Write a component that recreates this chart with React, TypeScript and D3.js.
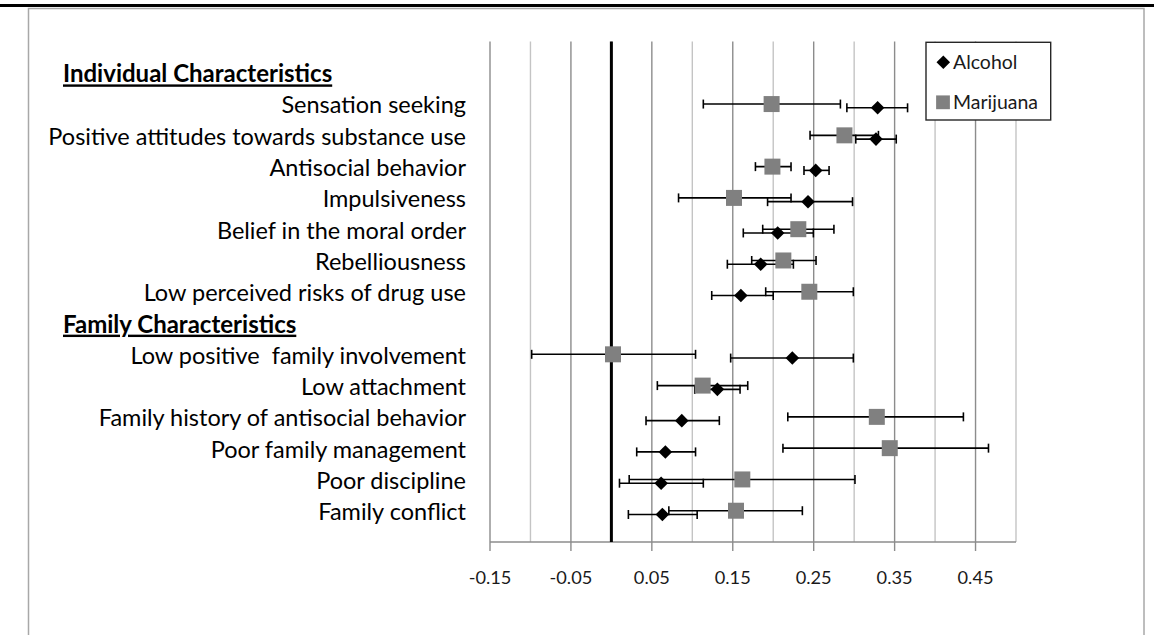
import React, { useMemo } from "react";
import * as d3 from "d3";

// ---------- data ----------
const groupHeaders = ["Individual Characteristics", "Family Characteristics"];
const headerIndex = [0, 8];

const rowLabels = [
  "Sensation seeking",
  "Positive attitudes towards substance use",
  "Antisocial behavior",
  "Impulsiveness",
  "Belief in the moral order",
  "Rebelliousness",
  "Low perceived risks of drug use",
  "Low positive  family involvement",
  "Low attachment",
  "Family history of antisocial behavior",
  "Poor family management",
  "Poor discipline",
  "Family conflict",
];
const rowIndex = [1, 2, 3, 4, 5, 6, 7, 9, 10, 11, 12, 13, 14];

const seriesNames = ["Alcohol", "Marijuana"];

const alcoholEst = [0.329, 0.327, 0.2525, 0.243, 0.2055, 0.1845, 0.16, 0.2236, 0.131, 0.087, 0.0667, 0.0615, 0.063];
const alcoholLo = [0.291, 0.302, 0.238, 0.193, 0.163, 0.1433, 0.124, 0.1474, 0.103, 0.0428, 0.0313, 0.01, 0.021];
const alcoholHi = [0.366, 0.352, 0.269, 0.298, 0.2496, 0.2249, 0.2, 0.299, 0.159, 0.1334, 0.104, 0.1136, 0.106];

const marijuanaEst = [0.198, 0.288, 0.199, 0.1515, 0.231, 0.2125, 0.2446, 0.002, 0.1128, 0.328, 0.344, 0.1618, 0.154];
const marijuanaLo = [0.1136, 0.2455, 0.178, 0.083, 0.187, 0.1734, 0.1907, -0.0985, 0.0568, 0.218, 0.212, 0.022, 0.071];
const marijuanaHi = [0.283, 0.33, 0.222, 0.222, 0.275, 0.2529, 0.299, 0.104, 0.1685, 0.435, 0.466, 0.301, 0.236];

const xMin = -0.15;
const xMax = 0.5;
const xTicks = [-0.15, -0.05, 0.05, 0.15, 0.25, 0.35, 0.45];
const xTickLabels = ["-0.15", "-0.05", "0.05", "0.15", "0.25", "0.35", "0.45"];

// ---------- layout ----------
const W = 1154;
const H = 635;
const FONT = "Lato, 'Open Sans', sans-serif";
const ALC_OFFSET = 0.12;

function measure(text: string, font: string): number {
  const c = document.createElement("canvas").getContext("2d");
  if (!c) return text.length * 50;
  c.font = font;
  return c.measureText(text).width;
}

export default function App() {
  const x = d3.scaleLinear().domain([xMin, xMax]).range([490, 1016]);
  const y = d3.scaleLinear().domain([-1, 15]).range([41.5, 542]);
  const plotTop = y(-1);
  const plotBottom = y(15);

  const sizes = useMemo(() => {
    const label = (100 * 369) / measure("Family history of antisocial behavior", "100px Lato");
    const header = (100 * 234) / measure("Family Characteristics", "bold 100px Lato");
    const legend = (100 * 85) / measure("Marijuana", "100px Lato");
    const tick = (100 * 36) / measure("0.05", "100px Lato");
    return { label, header, legend, tick };
  }, []);

  const grid = d3.range(14).map((i) => ({ v: xMin + i * 0.05, major: i % 2 === 0 }));

  const diamond = d3.symbol().type(d3.symbolSquare).size(92)();
  const square = d3.symbol().type(d3.symbolSquare).size(256)();
  const legendSquare = d3.symbol().type(d3.symbolSquare).size(190)();

  const alc = rowIndex.map((r, i) => ({ r: r + ALC_OFFSET, est: alcoholEst[i], lo: alcoholLo[i], hi: alcoholHi[i] }));
  const mar = rowIndex.map((r, i) => ({ r, est: marijuanaEst[i], lo: marijuanaLo[i], hi: marijuanaHi[i] }));

  const errBar = (d: { r: number; lo: number; hi: number }, key: string) => {
    const yy = y(d.r);
    return (
      <g key={key} stroke="#000" strokeWidth={1.6} fill="none">
        <line x1={x(d.lo)} x2={x(d.hi)} y1={yy} y2={yy} />
        <line x1={x(d.lo)} x2={x(d.lo)} y1={yy - 4.5} y2={yy + 4.5} />
        <line x1={x(d.hi)} x2={x(d.hi)} y1={yy - 4.5} y2={yy + 4.5} />
      </g>
    );
  };

  return (
    <svg
      width={W}
      height={H}
      style={{ position: "absolute", left: 0, top: 0, background: "#fff" }}
      fontFamily={FONT}
    >
      <rect x={0} y={0} width={W} height={H} fill="#fff" />
      {/* outer frame */}
      <rect x={0} y={4} width={W} height={3} fill="#000" />
      <rect x={28.5} y={8.5} width={1115.5} height={640} fill="none" stroke="#a8a8a8" strokeWidth={1.5} />

      {/* gridlines */}
      {grid.map((g, i) => (
        <line
          key={"g" + i}
          x1={x(g.v)}
          x2={x(g.v)}
          y1={plotTop}
          y2={plotBottom}
          stroke={g.major ? "#8c8c8c" : "#c4c4c4"}
          strokeWidth={1.4}
        />
      ))}
      {/* x axis */}
      <line x1={x(xMin)} x2={x(xMax)} y1={plotBottom} y2={plotBottom} stroke="#8c8c8c" strokeWidth={1.4} />
      {xTicks.map((t, i) => (
        <g key={"t" + i}>
          <line x1={x(t)} x2={x(t)} y1={plotBottom} y2={plotBottom + 9} stroke="#8c8c8c" strokeWidth={1.4} />
          <text x={x(t)} y={584} fontSize={sizes.tick} textAnchor="middle" fill="#1a1a1a">
            {xTickLabels[i]}
          </text>
        </g>
      ))}
      {/* zero reference line */}
      <line x1={x(0)} x2={x(0)} y1={plotTop} y2={plotBottom} stroke="#000" strokeWidth={3} />

      {/* error bars */}
      {alc.map((d, i) => errBar(d, "ae" + i))}
      {mar.map((d, i) => errBar(d, "me" + i))}

      {/* markers */}
      {mar.map((d, i) => (
        <path key={"ms" + i} d={square || ""} transform={`translate(${x(d.est)},${y(d.r)})`} fill="#808080" />
      ))}
      {alc.map((d, i) => (
        <path key={"ad" + i} d={diamond || ""} transform={`translate(${x(d.est)},${y(d.r)}) rotate(45)`} fill="#000" />
      ))}

      {/* legend */}
      <rect x={926} y={42.3} width={124.7} height={77.7} fill="#fff" stroke="#262626" strokeWidth={1.4} />
      <path d={diamond || ""} transform="translate(943.3,62.3) rotate(45)" fill="#000" />
      <text x={953} y={62.3 + sizes.legend * 0.36} fontSize={sizes.legend} fill="#1a1a1a">
        {seriesNames[0]}
      </text>
      <path d={legendSquare || ""} transform="translate(943,102.3)" fill="#808080" />
      <text x={953} y={102 + sizes.legend * 0.36} fontSize={sizes.legend} fill="#1a1a1a">
        {seriesNames[1]}
      </text>

      {/* category labels */}
      {groupHeaders.map((h, i) => (
        <text
          key={"h" + i}
          x={63}
          y={y(headerIndex[i]) + sizes.header * 0.4}
          fontSize={sizes.header}
          fontWeight="bold"
          fill="#000"
          style={{ textDecoration: "underline" }}
        >
          {h}
        </text>
      ))}
      {rowLabels.map((l, i) => (
        <text
          key={"l" + i}
          x={466}
          y={y(rowIndex[i]) + sizes.label * 0.4}
          fontSize={sizes.label}
          textAnchor="end"
          fill="#000"
          style={{ whiteSpace: "pre" }}
        >
          {l}
        </text>
      ))}
    </svg>
  );
}
